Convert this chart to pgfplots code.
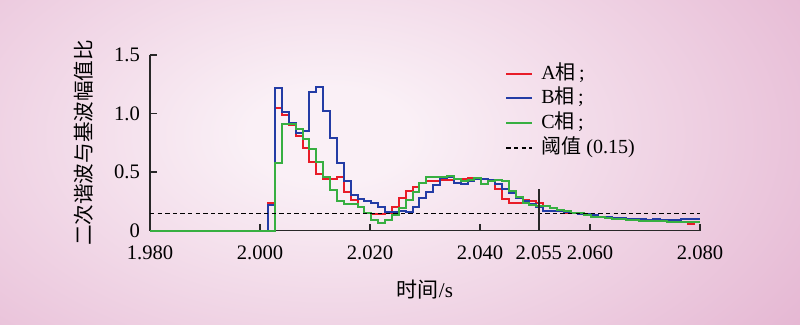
\documentclass[border=0pt]{standalone}
\usepackage{fontspec}
\setmainfont{Liberation Serif}
\newfontfamily\cjk{Noto Sans CJK SC}
\usepackage{pgfplots}
\pgfplotsset{compat=1.18}
\usepackage{pgfplotstable}
\definecolor{bge}{RGB}{226,174,205}
\definecolor{bgc}{RGB}{250,240,246}
\definecolor{cA}{RGB}{232,28,40}
\definecolor{cB}{RGB}{35,60,165}
\definecolor{cC}{RGB}{55,175,65}
\definecolor{axc}{RGB}{40,40,40}
\pgfdeclareradialshading{bgshade}{\pgfpoint{0bp}{0bp}}{color(0bp)=(bgc); color(3bp)=(bgc); color(24bp)=(bge); color(50bp)=(bge)}

\pgfplotstableread{
t A B C
1.98 0 0 0
2.0015 0.24 0.22 0
2.00275 1.05 1.22 0.58
2.004 0.99 1.01 0.91
2.00525 0.90 0.92 0.91
2.0065 0.81 0.83 0.87
2.00775 0.71 0.855 0.78
2.009 0.59 1.18 0.70
2.01025 0.48 1.23 0.59
2.0115 0.44 1.02 0.46
2.01275 0.445 0.79 0.35
2.014 0.455 0.58 0.25
2.01525 0.33 0.42 0.23
2.0165 0.26 0.305 0.23
2.01775 0.205 0.27 0.205
2.019 0.15 0.25 0.15
2.02025 0.145 0.24 0.09
2.0215 0.145 0.205 0.063
2.02275 0.15 0.16 0.09
2.024 0.20 0.16 0.134
2.02525 0.277 0.17 0.19
2.0265 0.34 0.16 0.26
2.02775 0.376 0.205 0.33
2.029 0.41 0.277 0.405
2.03025 0.42 0.33 0.456
2.0315 0.42 0.39 0.46
2.03275 0.43 0.45 0.46
2.034 0.43 0.46 0.47
2.03525 0.44 0.41 0.44
2.0365 0.44 0.40 0.42
2.03775 0.45 0.42 0.43
2.039 0.45 0.44 0.45
2.04025 0.44 0.44 0.40
2.0415 0.43 0.43 0.42
2.04275 0.36 0.40 0.43
2.044 0.27 0.36 0.42
2.04525 0.235 0.32 0.34
2.0465 0.24 0.28 0.29
2.04775 0.26 0.25 0.24
2.049 0.25 0.23 0.22
2.05025 0.24 0.20 0.21
2.0515 0.21 0.17 0.21
2.05275 0.19 0.17 0.19
2.054 0.17 0.165 0.18
2.05525 0.15 0.16 0.165
2.0565 0.15 0.155 0.15
2.05775 0.14 0.14 0.15
2.059 0.13 0.14 0.13
2.06025 0.12 0.13 0.12
2.0615 0.12 0.12 0.12
2.06275 0.11 0.12 0.11
2.064 0.11 0.11 0.10
2.06525 0.10 0.11 0.10
2.0665 0.10 0.10 0.09
2.06775 0.09 0.10 0.09
2.069 0.09 0.10 0.085
2.07025 0.08 0.09 0.08
2.0715 0.09 0.10 0.08
2.07275 0.08 0.09 0.08
2.074 0.08 0.09 0.075
2.07525 0.07 0.09 0.075
2.0765 0.07 0.10 0.07
2.07775 0.06 0.10 0.075
2.079 0.07 0.10 0.075
2.08 0.07 0.10 0.075
}\phases

\begin{document}
\begin{tikzpicture}
\useasboundingbox (0,0) rectangle (400pt,162.5pt);
\fill[bge] (0,0) rectangle (400pt,162.5pt);
\begin{scope}
\clip (0,0) rectangle (400pt,162.5pt);
\shade[shading=bgshade] (165pt,95pt) ellipse (340pt and 200pt);
\end{scope}
\begin{axis}[
  at={(75pt,47.15pt)}, anchor=south west,
  scale only axis, width=275pt, height=87.85pt,
  xmin=1.98, xmax=2.08, ymin=0, ymax=1.5,
  clip=false,
  axis x line*=bottom, axis y line*=left,
  axis line style={axc, line width=0.75pt},
  xtick={1.98,2.00,2.02,2.04,2.0507,2.06,2.08},
  xticklabels={1.980,2.000,2.020,2.040,2.055,2.060,2.080},
  ytick={0,0.5,1,1.5}, yticklabels={0,0.5,1.0,1.5},
  minor tick num=0,
  tick align=inside, major tick length=3.5pt,
  tick style={axc, line width=0.75pt},
  /pgf/number format/assume math mode=true,
  ticklabel style={font=\fontsize{10.3}{10.3}\selectfont},
  yticklabel style={xshift=-1.5pt},
  xticklabel style={yshift=-4pt},
  xlabel={{\cjk 时间}/s},
  ylabel={\cjk 二次谐波与基波幅值比},
  xlabel style={at={(axis description cs:0.5,-0.336)}, anchor=center, font=\fontsize{10.5}{10.5}\selectfont},
  ylabel style={at={(axis description cs:-0.12,0.5)}, anchor=center, font=\fontsize{10.3}{10.3}\selectfont},
  legend image code/.code={\draw[#1] (0pt,0pt) -- (13pt,0pt);},
  legend cell align=left,
  legend style={draw=none, fill=none, inner sep=0pt,
    at={(axis description cs:0.6455,0.962)}, anchor=north west,
    font=\fontsize{10}{12}\selectfont, row sep=0.9pt, column sep=3pt,
    nodes={inner sep=1pt, text height=7.5pt, text depth=2pt}},
]
\addplot[cA, line width=1pt, const plot] table[x=t, y=A] {\phases};
\addlegendentry{A{\cjk 相}\,;}
\addplot[cB, line width=1pt, const plot] table[x=t, y=B] {\phases};
\addlegendentry{B{\cjk 相}\,;}
\addplot[cC, line width=1pt, const plot] table[x=t, y=C] {\phases};
\addlegendentry{C{\cjk 相}\,;}
\addplot[black, line width=0.6pt, dash pattern=on 2.2pt off 1.6pt] coordinates {(1.98,0.15) (2.08,0.15)};
\addlegendentry{{\cjk 阈值} (0.15)}
\addplot[axc, line width=0.75pt, forget plot] coordinates {(2.0507,0) (2.0507,0.36)};
\end{axis}
\end{tikzpicture}
\end{document}
